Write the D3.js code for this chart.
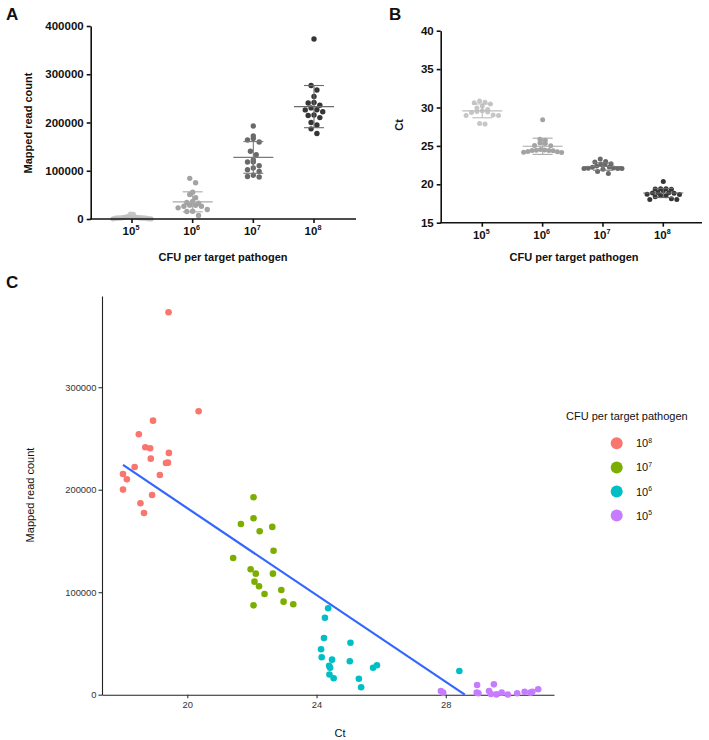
<!DOCTYPE html>
<html><head><meta charset="utf-8">
<script src="https://cdn.jsdelivr.net/npm/d3@7"></script>
<style>
body{margin:0;background:#fff;}
svg{display:block;font-family:"Liberation Sans",Arial,Helvetica,sans-serif;}
</style>
</head><body>
<svg id="chart" width="709" height="740"></svg>
<script>
// ---------- data ----------
const groups = ["1e5", "1e6", "1e7", "1e8"];
const exponents = ["5", "6", "7", "8"];

// Ct values per CFU group
const ct5 = [27.85, 27.92, 28.97, 28.96, 29.01, 29.49, 29.34, 29.40, 29.57, 29.73, 29.92, 30.21, 30.44, 30.62, 30.68, 30.86];
const ct6 = [24.36, 24.26, 24.23, 24.14, 24.16, 24.48, 24.39, 24.42, 24.40, 24.53, 25.05, 25.03, 25.31, 25.38, 25.75, 25.87, 28.42];
const ct7 = [22.05, 22.05, 21.66, 22.63, 22.24, 22.67, 21.42, 21.96, 22.12, 22.65, 22.08, 22.22, 22.91, 22.39, 22.98, 23.28, 22.05];
const ct8 = [19.42, 20.35, 18.94, 18.50, 18.70, 18.85, 19.43, 18.87, 19.34, 19.40, 18.37, 18.01, 19.15, 18.13, 18.01, 18.91, 18.55, 18.66];

// Mapped read counts per CFU group (same samples, same order)
const reads5 = [3600, 2000, 9500, 2000, 1400, 10100, 3600, 700, 300, 2000, 200, 1400, 2900, 2000, 2900, 5300];
const reads6 = [84300, 75100, 55300, 44300, 36500, 34200, 28300, 26300, 19700, 16000, 50700, 32600, 15600, 7200, 26300, 28700, 23100];
const reads7 = [192600, 172100, 166600, 163700, 159500, 140500, 133400, 122400, 118100, 118100, 110300, 105800, 102200, 98300, 90800, 88200, 87200];
const reads8 = [373200, 276600, 267400, 254100, 241400, 240500, 235900, 230300, 226100, 226400, 222200, 215400, 214400, 210200, 200100, 194900, 186800, 177300];

// Linear fit: reads = intercept + slope * Ct
const fitIntercept = 605800;
const fitSlope = -21190;

// tick values
const ticksA = [0, 100000, 200000, 300000, 400000];
const ticksB = [15, 20, 25, 30, 35, 40];
const ticksCx = [20, 24, 28];
const ticksCy = [0, 100000, 200000, 300000];

const grayColors = ["#c6c6c6", "#a3a3a3", "#696969", "#353535"];
const lineColors = ["#bdbdbd", "#a8a8a8", "#7a7a7a", "#6a6a6a"];
const hueColors = ["#C77CFF", "#00BFC4", "#7CAE00", "#F8766D"];

const ctByGroup = [ct5, ct6, ct7, ct8];
const readsByGroup = [reads5, reads6, reads7, reads8];

// ---------- helpers ----------
const svg = d3.select("#chart");
const BLACK = "#111";

// Prism-like scatter layout: bin points into horizontal rows, spread each row symmetrically
function rowLayout(values, yScale, cx, r, maxHalf) {
  const pts = values.map((v, i) => ({v, y: yScale(v), i}));
  const order = pts.slice().sort((a, b) => b.y - a.y);
  const binH = 2 * r * 0.95;
  const rows = [];
  let cur = null;
  order.forEach(p => {
    if (!cur || cur.start - p.y > binH) { cur = {start: p.y, pts: []}; rows.push(cur); }
    cur.pts.push(p);
  });
  rows.forEach(row => {
    const n = row.pts.length;
    const sp = n > 1 ? Math.min(2 * r * 1.08, (2 * maxHalf) / (n - 1)) : 0;
    const slots = d3.range(n).map(i => (i - (n - 1) / 2) * sp)
      .sort((a, b) => Math.abs(a) - Math.abs(b) || a - b);
    // interleave: points ordered by value, alternately placed center-out
    const byVal = row.pts.slice().sort((a, b) => a.y - b.y);
    byVal.forEach((p, k) => { p.off = slots[k]; });
  });
  return pts.map(p => ({v: p.v, x: cx + p.off, y: p.y}));
}

function expLabel(g, x, y, exp, size, bold, anchor) {
  const t = g.append("text").attr("x", x).attr("y", y)
    .attr("text-anchor", anchor || "middle")
    .attr("font-size", size).attr("font-weight", bold ? "bold" : "normal").attr("fill", BLACK);
  t.append("tspan").text("10");
  t.append("tspan").attr("font-size", size * 0.62).attr("dy", -size * 0.42).text(exp);
  return t;
}

// ---------- dot plot panels (A, B) ----------
function dotPanel(opts) {
  const g = svg.append("g");
  const y = opts.y, x = opts.x;
  groups.forEach((grp, gi) => {
    const vals = opts.data[gi];
    const col = grayColors[gi];
    const cx = x(grp);
    const pts = rowLayout(vals, y, cx, opts.r, opts.maxHalf);
    const m = d3.mean(vals), sd = d3.deviation(vals);
    g.selectAll(null).data(pts).enter().append("circle")
      .attr("cx", d => d.x).attr("cy", d => d.y).attr("r", opts.r).attr("fill", col);
    const lo = Math.max(opts.ymin, m - sd), hi = m + sd;
    const sg = g.append("g").attr("stroke", lineColors[gi]).attr("stroke-width", 1.1).attr("fill", "none");
    sg.append("line").attr("x1", cx - 20).attr("x2", cx + 20).attr("y1", y(m)).attr("y2", y(m));
    sg.append("line").attr("x1", cx).attr("x2", cx).attr("y1", y(lo)).attr("y2", y(hi));
    sg.append("line").attr("x1", cx - 10).attr("x2", cx + 10).attr("y1", y(hi)).attr("y2", y(hi));
    sg.append("line").attr("x1", cx - 10).attr("x2", cx + 10).attr("y1", y(lo)).attr("y2", y(lo));
  });
  // y axis
  const ax = g.append("g").attr("transform", `translate(${opts.axisX},0)`)
    .call(d3.axisLeft(y).tickValues(opts.ticks).tickSize(4).tickSizeOuter(0).tickPadding(3).tickFormat(d3.format("d")));
  ax.attr("font-family", null);
  ax.select(".domain").attr("stroke", BLACK).attr("stroke-width", 1.6);
  ax.selectAll(".tick line").attr("stroke", BLACK).attr("stroke-width", 1.6);
  ax.selectAll(".tick text").attr("font-size", 11.5).attr("font-weight", "bold").attr("fill", BLACK);
  // x axis
  const y0 = y.range()[0];
  g.append("line").attr("x1", opts.axisX - 0.8).attr("x2", opts.axisEnd).attr("y1", y0).attr("y2", y0)
    .attr("stroke", BLACK).attr("stroke-width", 1.6);
  groups.forEach((grp, gi) => {
    g.append("line").attr("x1", x(grp)).attr("x2", x(grp)).attr("y1", y0).attr("y2", y0 + 4)
      .attr("stroke", BLACK).attr("stroke-width", 1.6);
    expLabel(g, x(grp) - 1, y0 + 16, exponents[gi], 11.5, true);
  });
  // titles
  g.append("text").attr("x", opts.xTitleX).attr("y", opts.xTitleY).attr("text-anchor", "middle")
    .attr("font-size", 11).attr("font-weight", "bold").attr("fill", BLACK).text("CFU per target pathogen");
  g.append("text").attr("transform", `translate(${opts.yTitleX},${opts.yTitleY}) rotate(-90)`)
    .attr("text-anchor", "middle").attr("font-size", 11).attr("font-weight", "bold").attr("fill", BLACK)
    .text(opts.yTitle);
  g.append("text").attr("x", opts.labelX).attr("y", opts.labelY).attr("font-size", 17).attr("font-weight", "bold")
    .attr("fill", BLACK).text(opts.label);
}

// Panel A
dotPanel({
  label: "A", labelX: 6, labelY: 20,
  data: readsByGroup,
  y: d3.scaleLinear().domain([0, 400000]).range([219, 26]),
  x: d3.scalePoint().domain(groups).range([132, 314]),
  ymin: 0, ticks: ticksA, axisX: 90.7, axisEnd: 356,
  r: 2.7, maxHalf: 19,
  xTitleX: 223, xTitleY: 261, yTitleX: 32, yTitleY: 123, yTitle: "Mapped read count"
});

// Panel B
dotPanel({
  label: "B", labelX: 389, labelY: 20,
  data: ctByGroup,
  y: d3.scaleLinear().domain([15, 40]).range([222.7, 30.7]),
  x: d3.scalePoint().domain(groups).range([482.3, 663.3]),
  ymin: 15, ticks: ticksB, axisX: 440.7, axisEnd: 702,
  r: 2.5, maxHalf: 19,
  xTitleX: 574, xTitleY: 261, yTitleX: 403, yTitleY: 125, yTitle: "Ct"
});

// ---------- Panel C: scatter ----------
(function () {
  const g = svg.append("g");
  const x = d3.scaleLinear().domain([17.36, 31.35]).range([102, 554]);
  const y = d3.scaleLinear().domain([0, 389000]).range([694.7, 296]);
  const TXT = "#333";

  const ay = g.append("g").attr("transform", "translate(102,0)")
    .call(d3.axisLeft(y).tickValues(ticksCy).tickSize(3.5).tickSizeOuter(0).tickPadding(2).tickFormat(d3.format("d")));
  const ax = g.append("g").attr("transform", "translate(0,694.7)")
    .call(d3.axisBottom(x).tickValues(ticksCx).tickSize(3.5).tickSizeOuter(0).tickPadding(3));
  [ay, ax].forEach(a => {
    a.attr("font-family", null);
    a.select(".domain").attr("stroke", "#222").attr("stroke-width", 1.1);
    a.selectAll(".tick line").attr("stroke", "#333").attr("stroke-width", 1.1);
    a.selectAll(".tick text").attr("font-size", 9.4).attr("fill", TXT);
  });

  // regression line over the data range, clipped at reads >= 0
  const allCt = ctByGroup.flat();
  const ctMin = d3.min(allCt), ctMax = d3.max(allCt);
  const ctZero = -fitIntercept / fitSlope;
  const fitEnd = Math.min(ctMax, ctZero);
  const fitPts = [ctMin, fitEnd].map(c => [c, Math.max(0, fitIntercept + fitSlope * c)]);

  groups.forEach((grp, gi) => {
    const pts = ctByGroup[gi].map((c, i) => [c, readsByGroup[gi][i]]);
    g.selectAll(null).data(pts).enter().append("circle")
      .attr("cx", d => x(d[0])).attr("cy", d => y(d[1])).attr("r", 3.3).attr("fill", hueColors[gi]);
  });

  g.append("path").datum(fitPts)
    .attr("d", d3.line().x(d => x(d[0])).y(d => y(d[1])))
    .attr("fill", "none").attr("stroke", "#3366FF").attr("stroke-width", 2.2);

  g.append("text").attr("x", 340).attr("y", 737).attr("text-anchor", "middle")
    .attr("font-size", 11).attr("fill", "#111").text("Ct");
  g.append("text").attr("transform", "translate(34,495) rotate(-90)").attr("text-anchor", "middle")
    .attr("font-size", 11).attr("fill", "#111").text("Mapped read count");
  g.append("text").attr("x", 6).attr("y", 288).attr("font-size", 17).attr("font-weight", "bold")
    .attr("fill", BLACK).text("C");

  const lg = g.append("g");
  lg.append("text").attr("x", 566).attr("y", 420).attr("font-size", 11).attr("fill", "#111")
    .text("CFU per target pathogen");
  [3, 2, 1, 0].forEach((gi, k) => {
    const cy = 443.3 + k * 24.1;
    lg.append("circle").attr("cx", 616.7).attr("cy", cy).attr("r", 6).attr("fill", hueColors[gi]);
    expLabel(lg, 636, cy + 4, exponents[gi], 11, false, "start");
  });
})();
</script>
</body></html>
